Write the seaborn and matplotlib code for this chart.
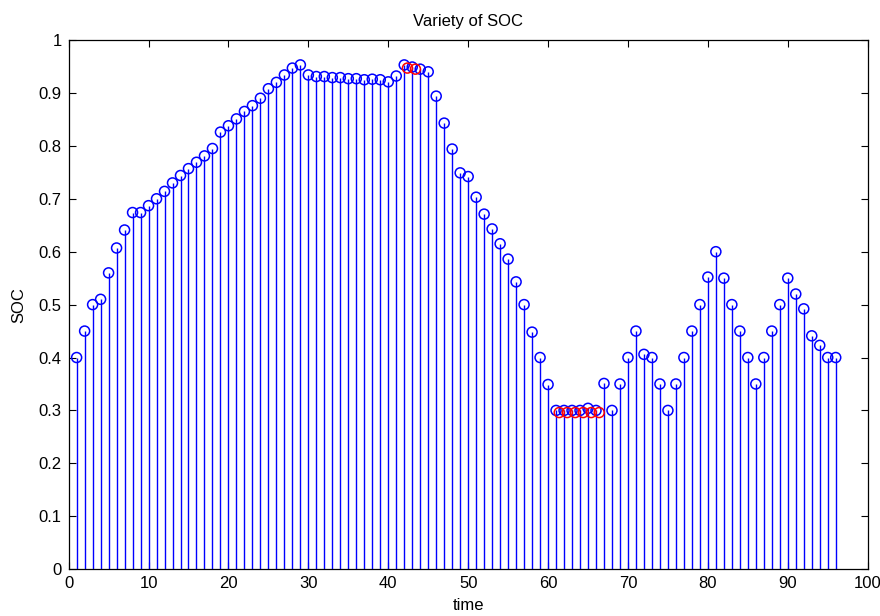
import numpy as np
import pandas as pd
import matplotlib
matplotlib.use("Agg")
import matplotlib.pyplot as plt
import seaborn as sns

# SOC per time step
time = list(range(1, 97))
soc = [0.40, 0.45, 0.50, 0.51, 0.56, 0.607, 0.641, 0.674, 0.674, 0.687,
       0.70, 0.714, 0.73, 0.744, 0.757, 0.769, 0.781, 0.795, 0.826, 0.838,
       0.851, 0.865, 0.876, 0.89, 0.908, 0.92, 0.934, 0.947, 0.953, 0.934,
       0.931, 0.931, 0.929, 0.929, 0.927, 0.927, 0.925, 0.926, 0.925, 0.921,
       0.932, 0.953, 0.949, 0.945, 0.94, 0.894, 0.843, 0.794, 0.749, 0.742,
       0.703, 0.671, 0.643, 0.615, 0.586, 0.543, 0.50, 0.448, 0.40, 0.349,
       0.30, 0.30, 0.30, 0.30, 0.304, 0.30, 0.351, 0.30, 0.35, 0.40,
       0.45, 0.406, 0.40, 0.35, 0.30, 0.35, 0.40, 0.45, 0.50, 0.552,
       0.60, 0.55, 0.50, 0.45, 0.40, 0.35, 0.40, 0.45, 0.50, 0.55,
       0.52, 0.492, 0.441, 0.423, 0.40, 0.40]

# points hitting the limits (red circles)
limit_time = [42.4, 43.4, 61.4, 62.4, 63.4, 64.4, 65.4, 66.4]
limit_soc = [0.947, 0.945, 0.296, 0.296, 0.296, 0.296, 0.296, 0.296]

df = pd.DataFrame({"time": time, "SOC": soc})
lim = pd.DataFrame({"time": limit_time, "SOC": limit_soc})

sns.set_theme(style="ticks")
plt.rcParams['font.family'] = ['Liberation Sans', 'DejaVu Sans']
plt.rcParams['text.color'] = 'black'
plt.rcParams['axes.labelcolor'] = 'black'

fig = plt.figure(figsize=(8.8, 6.16), dpi=100)
ax = fig.add_axes([0.078, 0.076, 0.908, 0.859])

ax.vlines(df["time"], 0, df["SOC"], color="blue", linewidth=1)
sns.scatterplot(data=df, x="time", y="SOC", ax=ax, marker="o", s=52,
                facecolors="none", edgecolor="blue", linewidth=1.1, zorder=3)
sns.scatterplot(data=lim, x="time", y="SOC", ax=ax, marker="o", s=52,
                facecolors="none", edgecolor="red", linewidth=1.1, zorder=4)

ax.set_xlim(0, 100)
ax.set_ylim(0, 1)
ax.set_xticks(np.arange(0, 101, 10))
ax.set_yticks(np.arange(0, 1.01, 0.1))
ax.set_yticklabels(["0", "0.1", "0.2", "0.3", "0.4", "0.5", "0.6", "0.7", "0.8", "0.9", "1"])
ax.tick_params(direction="in", top=True, right=True, length=5, width=0.8,
               labelsize=12, colors="black", pad=5)
for sp in ax.spines.values():
    sp.set_visible(True)
    sp.set_color("black")
    sp.set_linewidth(0.9)

ax.set_title("Variety of SOC", fontsize=12, pad=10, color="black")
ax.set_xlabel("time", fontsize=12, labelpad=5, color="black")
ax.set_ylabel("SOC", fontsize=12, labelpad=9, color="black")

fig.savefig("out.png", dpi=100, facecolor="white")
